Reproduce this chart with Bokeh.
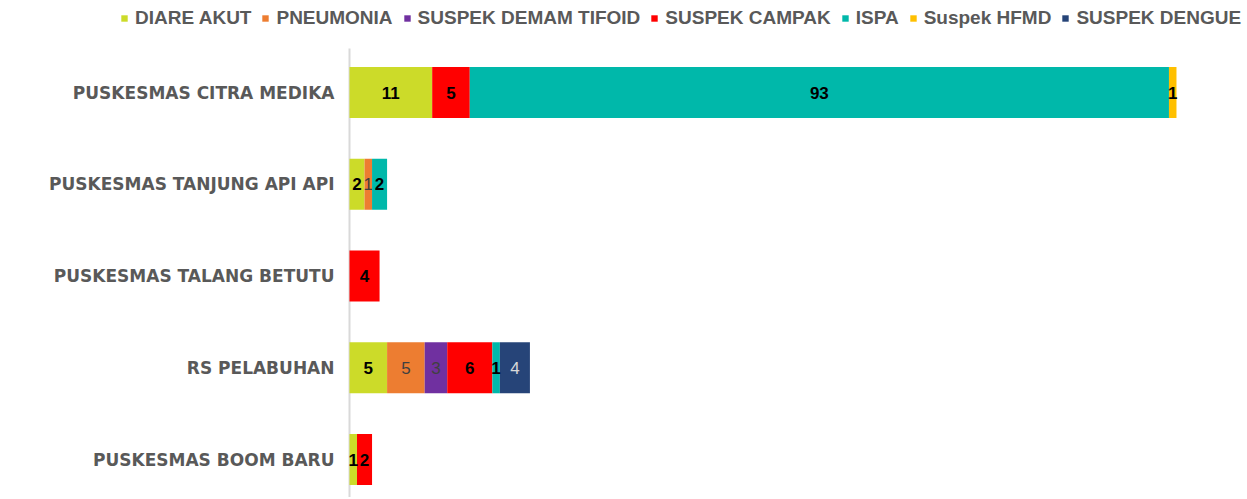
from bokeh.plotting import figure
from bokeh.models import ColumnDataSource, Range1d
from bokeh.core.properties import value
from bokeh.embed import file_html
from bokeh.resources import INLINE

categories = ["PUSKESMAS CITRA MEDIKA", "PUSKESMAS TANJUNG API API",
              "PUSKESMAS TALANG BETUTU", "RS PELABUHAN", "PUSKESMAS BOOM BARU"]
series_names = ["DIARE AKUT", "PNEUMONIA", "SUSPEK DEMAM TIFOID", "SUSPEK CAMPAK",
                "ISPA", "Suspek HFMD", "SUSPEK DENGUE"]
diare_akut = [11, 2, 0, 5, 1]
pneumonia = [0, 1, 0, 5, 0]
suspek_demam_tifoid = [0, 0, 0, 3, 0]
suspek_campak = [5, 0, 4, 6, 2]
ispa = [93, 2, 0, 1, 0]
suspek_hfmd = [1, 0, 0, 0, 0]
suspek_dengue = [0, 0, 0, 4, 0]

series_values = [diare_akut, pneumonia, suspek_demam_tifoid, suspek_campak,
                 ispa, suspek_hfmd, suspek_dengue]
colors = ["#CCDB29", "#ED7D31", "#7030A0", "#FF0000", "#00B8AA", "#FFC000", "#264478"]
label_colors = ["#000000", "#404040", "#404040", "#000000", "#000000", "#000000", "#D9D9D9"]
label_weights = ["bold", "normal", "normal", "bold", "bold", "bold", "normal"]

n = len(categories)
ypos = [n - 1 - i for i in range(n)]
keys = ["s%d" % k for k in range(len(series_names))]

data = {"y": ypos}
for k, vals in zip(keys, series_values):
    data[k] = vals
source = ColumnDataSource(data)

Y_START, Y_END, AXIS_TOP = -0.414, 5.003, 4.48
p = figure(width=1245, height=497, output_backend="svg", toolbar_location=None,
           x_range=Range1d(-46.42, 119.18), y_range=Range1d(Y_START, Y_END),
           min_border_left=0, min_border_right=0, min_border_top=0, min_border_bottom=0)
p.outline_line_color = None
p.xgrid.visible = False
p.ygrid.visible = False
p.xaxis.visible = False
p.yaxis.visible = False

# category axis line at value zero
p.segment(x0=[0], y0=[Y_START], x1=[0], y1=[AXIS_TOP], line_color="#D9D9D9", line_width=2)

p.hbar_stack(keys, y="y", height=0.556, color=colors, line_color=None,
             source=source, legend_label=series_names)

# segment labels
for k, vals in enumerate(series_values):
    xs, ys, ts = [], [], []
    for i in range(n):
        v = vals[i]
        if v:
            left = sum(series_values[j][i] for j in range(k))
            xs.append(left + v / 2)
            ys.append(ypos[i])
            ts.append(str(v))
    if xs:
        p.text(x=xs, y=ys, text=ts, text_align="center", text_baseline="middle",
               text_font=value("Liberation Sans"), text_font_size="17px",
               text_font_style=label_weights[k], text_color=label_colors[k])

# category labels
p.text(x=[0] * n, y=ypos, text=categories, x_offset=-15, text_align="right",
       text_baseline="middle", text_font=value("DejaVu Sans"), text_font_size="17px",
       text_font_style="bold", text_color="#595959")

lg = p.legend[0]
lg.orientation = "horizontal"
lg.location = (120, 468)
lg.margin = 0
lg.padding = 0
lg.spacing = 10
lg.glyph_width = 8
lg.glyph_height = 8
lg.label_standoff = 7
lg.label_height = 20
lg.label_text_font = "Liberation Sans"
lg.label_text_font_style = "bold"
lg.label_text_font_size = "19px"
lg.label_text_color = "#595959"
lg.border_line_color = None
lg.background_fill_alpha = 0

open("out.html", "w").write(file_html(p, INLINE))
